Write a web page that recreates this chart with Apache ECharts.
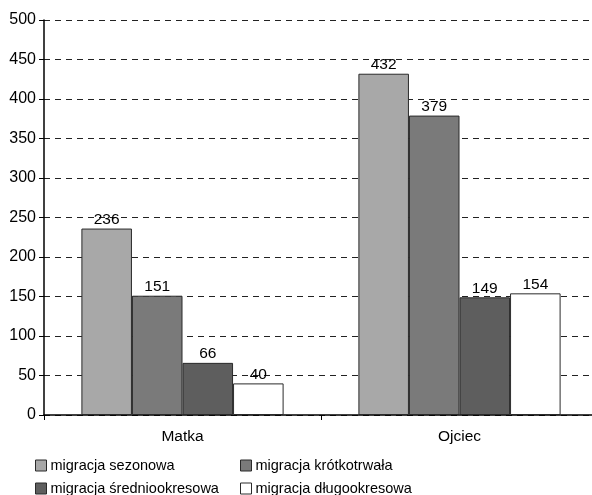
<!DOCTYPE html>
<html>
<head>
<meta charset="utf-8">
<script src="https://cdn.jsdelivr.net/npm/echarts@6/dist/echarts.min.js"></script>
<style>
  html, body { margin: 0; padding: 0; background: #fff; overflow: hidden; }
  #chart { width: 600px; height: 495px; }
</style>
</head>
<body>
<div id="chart"></div>
<script>
// Migration counts by parent
const categories = ['Matka', 'Ojciec'];
const seriesNames = ['migracja sezonowa', 'migracja krótkotrwała', 'migracja średniookresowa', 'migracja długookresowa'];
const sezonowa = [236, 432];
const krotkotrwala = [151, 379];
const sredniookresowa = [66, 149];
const dlugookresowa = [40, 154];
const yTicks = [0, 50, 100, 150, 200, 250, 300, 350, 400, 450, 500];

const values = [sezonowa, krotkotrwala, sredniookresowa, dlugookresowa];
const fills = ['#a8a8a8', '#7a7a7a', '#5e5e5e', '#ffffff'];
const font = 'Liberation Sans, Arial, sans-serif';

const chart = echarts.init(document.getElementById('chart'), null, { renderer: 'canvas' });

const series = seriesNames.map((name, i) => ({
  name,
  type: 'bar',
  data: values[i],
  barGap: '0%',
  barCategoryGap: '27%',
  itemStyle: { color: fills[i], borderColor: '#2a2a2a', borderWidth: 1 },
  label: {
    show: true, position: 'top', distance: 1,
    color: '#000', fontSize: 15.5, fontFamily: font
  },
  emphasis: { disabled: true }
}));

// one legend block per entry, laid out in two rows
const legendPos = [[30, 453], [235, 453], [30, 476], [235, 476]];
const legends = seriesNames.map((name, i) => ({
  data: [name],
  left: legendPos[i][0], top: legendPos[i][1],
  itemWidth: 11, itemHeight: 11, itemGap: 5,
  icon: 'rect',
  selectedMode: false,
  textStyle: { fontSize: 14.5, color: '#000', fontFamily: font, padding: [0, 0, 0, -1] },
  itemStyle: { borderColor: '#2a2a2a', borderWidth: 1 }
}));

chart.setOption({
  animation: false,
  backgroundColor: '#fff',
  legend: legends,
  grid: { left: 44, right: 2, top: 20, height: 395, containLabel: false },
  xAxis: {
    type: 'category',
    data: categories,
    axisLine: { lineStyle: { color: '#000', width: 1.5 } },
    axisTick: { show: true, length: 5, lineStyle: { color: '#000' } },
    axisLabel: { color: '#000', fontSize: 15.5, fontFamily: font, margin: 14 }
  },
  yAxis: {
    type: 'value',
    min: yTicks[0], max: yTicks[yTicks.length - 1], interval: 50,
    axisLine: { show: true, lineStyle: { color: '#000', width: 1.5 } },
    axisTick: { show: true, length: 5, lineStyle: { color: '#000' } },
    axisLabel: { color: '#000', fontSize: 16, fontFamily: font, margin: 8 },
    splitLine: { show: true, lineStyle: { color: '#222', type: [6, 5], width: 1 } }
  },
  series
});
</script>
</body>
</html>
